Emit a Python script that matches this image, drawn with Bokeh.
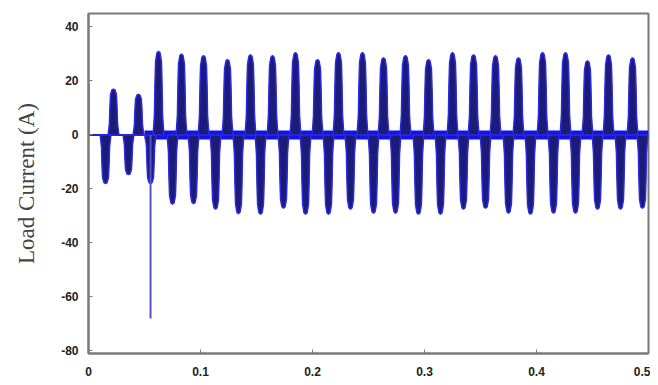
from bokeh.plotting import figure
from bokeh.models import Range1d, FixedTicker
from bokeh.embed import file_html
from bokeh.resources import INLINE

# ---- data ----
pos_t = [0.0223, 0.0446, 0.0625, 0.0830, 0.1027, 0.1241, 0.1446, 0.1643, 0.1848,
         0.2045, 0.2232, 0.2446, 0.2634, 0.2830, 0.3036, 0.3250, 0.3438, 0.3634,
         0.3839, 0.4054, 0.4259, 0.4455, 0.4643, 0.4857]
pos_i = [17.0, 15.0, 31.0, 30.0, 29.4, 27.9, 29.7, 29.4, 30.5,
         27.9, 30.5, 30.5, 28.6, 29.4, 27.9, 30.5, 29.7, 29.4,
         28.6, 30.5, 30.5, 27.5, 29.7, 28.6]
neg_t = [0.0152, 0.0357, 0.0554, 0.0750, 0.0938, 0.1134, 0.1339, 0.1536, 0.1741,
         0.1938, 0.2143, 0.2339, 0.2545, 0.2741, 0.2946, 0.3143, 0.3348, 0.3545,
         0.3750, 0.3946, 0.4152, 0.4348, 0.4545, 0.4750, 0.4946]
neg_i = [-18.0, -14.7, -18.0, -25.7, -25.5, -27.5, -29.2, -29.4, -27.2,
         -29.4, -29.4, -27.5, -29.0, -29.0, -29.4, -29.4, -27.5, -27.2,
         -29.0, -29.4, -29.0, -29.0, -27.5, -27.5, -27.2]
spike_t = [0.0554, 0.0554]
spike_i = [0.0, -68.0]
start_t = [0.0, 0.0, 0.004]
start_i = [19.0, 0.0, 0.0]
load_on_t = 0.05
end_t = 0.5

x_ticks = [0, 0.1, 0.2, 0.3, 0.4, 0.5]
x_tick_labels = ["0", "0.1", "0.2", "0.3", "0.4", "0.5"]
y_ticks = [40, 20, 0, -20, -40, -60, -80]
y_tick_labels = ["40", "20", "0", "-20", "-40", "-60", "-80"]

# ---- pulse shape (style) ----
shape_dx = [-0.0048, -0.0036, -0.0032, -0.0026, -0.0014, 0.0, 0.0014, 0.0026, 0.0032, 0.0036, 0.0048]
shape_fy = [0.0, 0.25, 0.6, 0.88, 0.98, 1.0, 0.98, 0.88, 0.6, 0.25, 0.0]

def pulses(ts, vs):
    xs = [[t + d for d in shape_dx] for t in ts]
    ys = [[v * f for f in shape_fy] for v in vs]
    return xs, ys

p = figure(width=650, height=382, output_backend="svg", toolbar_location=None,
           x_range=Range1d(0, 0.5), y_range=Range1d(-81, 45),
           min_border_left=88, min_border_right=2, min_border_top=13, min_border_bottom=29)
p.background_fill_color = "white"
p.border_fill_color = "white"
p.grid.visible = False
p.outline_line_color = "#7a7a7a"
p.outline_line_width = 2

# baseline (zero band)
p.line([0, load_on_t], [0, 0], line_color="#2020e0", line_width=2)
p.line([load_on_t, end_t], [0, 0], line_color="#1212f0", line_width=9)
p.line(start_t, start_i, line_color="#3030d0", line_width=2)

xs, ys = pulses(pos_t, pos_i)
p.patches(xs, ys, fill_color="#1c1c78", line_color="#2a2ae0", line_width=1.5)
xs, ys = pulses(neg_t, neg_i)
p.patches(xs, ys, fill_color="#1c1c78", line_color="#2a2ae0", line_width=1.5)
p.line(spike_t, spike_i, line_color="#5555c8", line_width=2)

p.xaxis.ticker = FixedTicker(ticks=x_ticks)
p.xaxis.major_label_overrides = dict(zip(x_ticks, x_tick_labels))
p.yaxis.ticker = FixedTicker(ticks=y_ticks)
p.yaxis.major_label_overrides = dict(zip(y_ticks, y_tick_labels))

for ax in (p.xaxis, p.yaxis):
    ax.axis_line_color = "#7a7a7a"
    ax.axis_line_width = 2
    ax.major_tick_in = 4
    ax.major_tick_out = 0
    ax.major_tick_line_color = "#7a7a7a"
    ax.minor_tick_line_color = None
    ax.major_label_text_font = "Liberation Sans"
    ax.major_label_text_font_style = "bold"
    ax.major_label_text_font_size = "12px"
    ax.major_label_text_color = "#222222"

p.xaxis.major_label_standoff = 13
p.yaxis.major_label_standoff = 10
p.yaxis.axis_label = "Load Current (A)"
p.yaxis.axis_label_text_font = "Liberation Serif"
p.yaxis.axis_label_text_font_style = "normal"
p.yaxis.axis_label_text_font_size = "23px"
p.yaxis.axis_label_text_color = "#444444"
p.yaxis.axis_label_standoff = 19

open("out.html", "w").write(file_html(p, INLINE))
